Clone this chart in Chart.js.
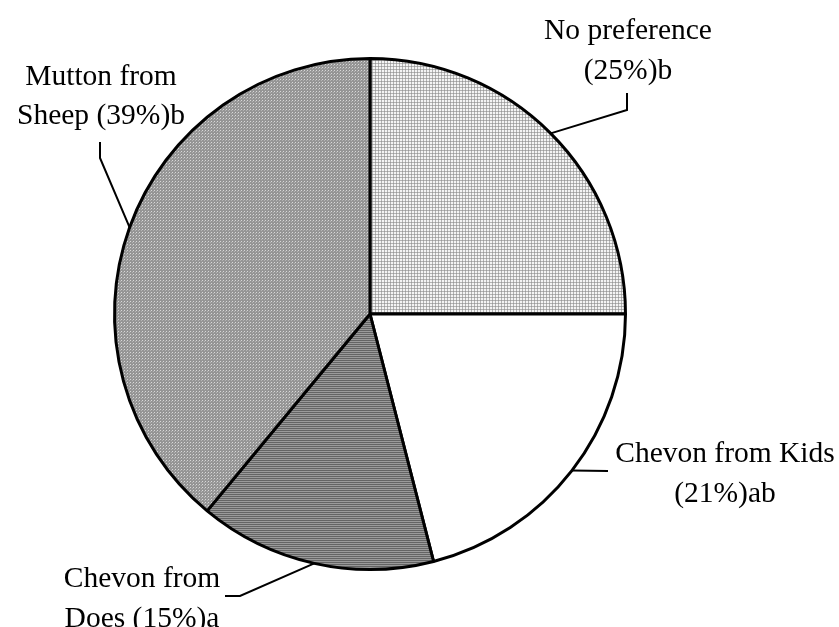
<!DOCTYPE html>
<html><head><meta charset="utf-8">
<script src="https://cdn.jsdelivr.net/npm/chart.js@4.4.0/dist/chart.umd.min.js"></script>
<style>html,body{margin:0;padding:0;background:#fff;}#wrap{width:839px;height:627px;position:relative;}</style>
</head><body><div id="wrap"><canvas id="c" width="839" height="627"></canvas></div>
<script>
const categories = ['No preference', 'Chevon from Kids', 'Chevon from Does', 'Mutton from Sheep'];
const values = [25, 21, 15, 39];
const letters = ['b', 'ab', 'a', 'b'];
const firstLineWords = [2, 3, 2, 2];

// label layout (positions of text and leader-line bends)
const labelLayout = [
  {x: 628, y: [39, 79],   path: [[627, 110], [627, 93]]},
  {x: 725, y: [462, 502], path: [[608, 471]]},
  {x: 142, y: [587, 627], path: [[240, 596], [225, 596]]},
  {x: 101, y: [85, 124],  path: [[100, 158], [100, 142]]}
];

function makePattern(w, h, bg, pixels) {
  const c = document.createElement('canvas');
  c.width = w; c.height = h;
  const x = c.getContext('2d');
  x.fillStyle = bg; x.fillRect(0, 0, w, h);
  pixels.forEach(([px, py, col]) => { x.fillStyle = col; x.fillRect(px, py, 1, 1); });
  return x.createPattern(c, 'repeat');
}

const patNoPref = makePattern(3, 3, '#f4f4f4', [
  [0,0,'#9a9a9a'],[1,0,'#b4b4b4'],[2,0,'#b4b4b4'],[0,1,'#b4b4b4'],[0,2,'#b4b4b4']
]);
const patKids = '#ffffff';
const patDoes = makePattern(2, 2, '#9a9a9a', [[0,0,'#646464'],[1,0,'#646464']]);
const patMutton = makePattern(3, 3, '#959595', [[1,1,'#d8d8d8'],[0,2,'#b4b4b4']]);

const labelPlugin = {
  id: 'pieLabels',
  afterDatasetsDraw(chart) {
    const ctx = chart.ctx;
    const meta = chart.getDatasetMeta(0);
    ctx.save();
    ctx.strokeStyle = '#000';
    ctx.lineWidth = 2;
    ctx.lineJoin = 'miter';
    ctx.fillStyle = '#000';
    ctx.font = '29.5px "Liberation Serif", "Times New Roman", serif';
    ctx.textAlign = 'center';
    ctx.textBaseline = 'alphabetic';
    meta.data.forEach((arc, i) => {
      const p = arc.getProps(['x', 'y', 'startAngle', 'endAngle', 'outerRadius'], true);
      const mid = (p.startAngle + p.endAngle) / 2;
      const ax = p.x + Math.cos(mid) * p.outerRadius;
      const ay = p.y + Math.sin(mid) * p.outerRadius;
      const L = labelLayout[i];
      ctx.beginPath();
      ctx.moveTo(ax, ay);
      L.path.forEach(([x, y]) => ctx.lineTo(x, y));
      ctx.stroke();
      const words = categories[i].split(' ');
      const n = firstLineWords[i];
      const l1 = words.slice(0, n).join(' ');
      const rest = words.slice(n).join(' ');
      const l2 = (rest ? rest + ' ' : '') + '(' + values[i] + '%)' + letters[i];
      ctx.fillText(l1, L.x, L.y[0]);
      ctx.fillText(l2, L.x, L.y[1]);
    });
    ctx.restore();
  }
};

new Chart(document.getElementById('c'), {
  type: 'pie',
  data: {
    labels: categories,
    datasets: [{
      data: values,
      backgroundColor: [patNoPref, patKids, patDoes, patMutton],
      borderColor: '#000000',
      borderWidth: 3,
      hoverOffset: 0
    }]
  },
  options: {
    responsive: false,
    animation: false,
    layout: {padding: {left: 113, right: 212, top: 57, bottom: 56}},
    plugins: {legend: {display: false}, tooltip: {enabled: false}}
  },
  plugins: [labelPlugin]
});
</script>
</body></html>
